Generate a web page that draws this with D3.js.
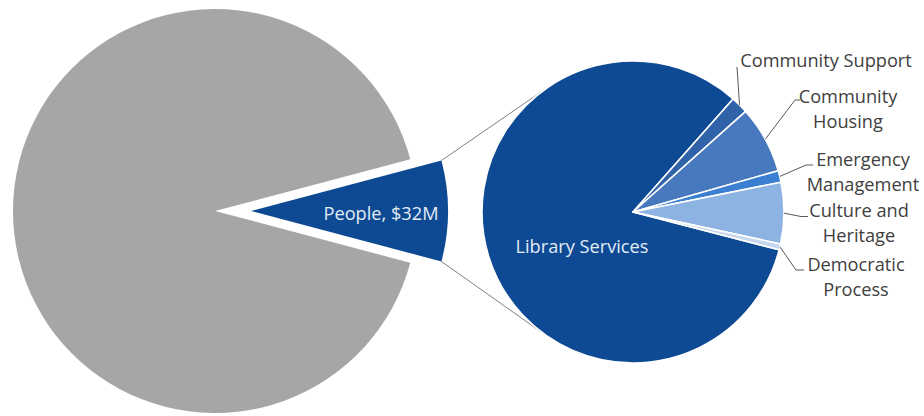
<!DOCTYPE html>
<html>
<head>
<meta charset="utf-8">
<script src="https://cdn.jsdelivr.net/npm/d3@7/dist/d3.min.js"></script>
<style>
  html, body { margin: 0; padding: 0; background: #ffffff; }
  svg { display: block; }
  text { font-family: "Open Sans", Lato, sans-serif; }
</style>
</head>
<body>
<svg id="chart" width="924" height="416"></svg>
<script>
// Main pie: the People service area against the rest of the budget ($M)
const mainCategories = ["People", "Other"];
const mainValues = [32, 356];
const mainColors = ["#0d4a93", "#a6a6a6"];

// Breakdown of the People service area ($M)
const subCategories = ["Library Services", "Community Support", "Community Housing",
                       "Emergency Management", "Culture and Heritage", "Democratic Process"];
const subValues = [26.4, 0.6, 2.3, 0.4, 2.1, 0.2];
const subColors = ["#0d4a93", "#2f62a8", "#4878bd", "#3a7fd2", "#8db3e2", "#c6d7ee"];

// Label text lines for the breakdown slices
const subLabelLines = [
  null,
  ["Community Support"],
  ["Community", "Housing"],
  ["Emergency", "Management"],
  ["Culture and", "Heritage"],
  ["Democratic", "Process"]
];

const svg = d3.select("#chart");
const deg = Math.PI / 180;
const fontSize = 18.2;

// ---- main pie ----
const main = { cx: 215, cy: 211, r: 202, explodeR: 197, explode: 36 };
const total = d3.sum(mainValues);
const peopleSpan = 2 * Math.PI * mainValues[0] / total;
const mainStart = Math.PI / 2 - peopleSpan / 2;

const mainPie = d3.pie().sort(null).value(d => d.value)
  .startAngle(mainStart).endAngle(mainStart + 2 * Math.PI);
const mainArcs = mainPie(mainCategories.map((c, i) => ({ name: c, value: mainValues[i], color: mainColors[i] })));
const mainArc = d3.arc().innerRadius(0).outerRadius(d => d.index === 0 ? main.explodeR : main.r);

const gMain = svg.append("g").attr("transform", `translate(${main.cx},${main.cy})`);
gMain.selectAll("path")
  .data(mainArcs)
  .join("path")
  .attr("d", mainArc)
  .attr("fill", d => d.data.color)
  .attr("transform", (d, i) => {
    if (i !== 0) return null;
    const mid = (d.startAngle + d.endAngle) / 2;
    return `translate(${Math.sin(mid) * main.explode},${-Math.cos(mid) * main.explode})`;
  });

// exploded slice geometry
const ps = mainArcs[0];
const pMid = (ps.startAngle + ps.endAngle) / 2;
const apex = [main.cx + Math.sin(pMid) * main.explode, main.cy - Math.cos(pMid) * main.explode];
const cornerTop = [apex[0] + Math.sin(ps.startAngle) * main.explodeR, apex[1] - Math.cos(ps.startAngle) * main.explodeR];
const cornerBot = [apex[0] + Math.sin(ps.endAngle) * main.explodeR, apex[1] - Math.cos(ps.endAngle) * main.explodeR];

// ---- breakdown pie ----
const sub = { cx: 633, cy: 212, r: 151 };
const subStart = 104.5 * deg;
const subPie = d3.pie().sort(null).value(d => d.value)
  .startAngle(subStart).endAngle(subStart + 2 * Math.PI);
const subArcs = subPie(subCategories.map((c, i) => ({ name: c, value: subValues[i], color: subColors[i], lines: subLabelLines[i] })));
const subArc = d3.arc().innerRadius(0).outerRadius(sub.r);

// connector lines from the exploded slice to the breakdown pie (tangents)
function tangentPoint(p, c, r, sign) {
  const dx = p[0] - c.cx, dy = p[1] - c.cy;
  const d = Math.hypot(dx, dy);
  const base = Math.atan2(dy, dx);
  const a = base + sign * Math.acos(r / d);
  return [c.cx + r * Math.cos(a), c.cy + r * Math.sin(a)];
}
const tTop = tangentPoint(cornerTop, sub, sub.r, 1);
const tBot = tangentPoint(cornerBot, sub, sub.r, -1);
svg.append("g")
  .selectAll("line")
  .data([[cornerTop, tTop], [cornerBot, tBot]])
  .join("line")
  .attr("x1", d => d[0][0]).attr("y1", d => d[0][1])
  .attr("x2", d => d[1][0]).attr("y2", d => d[1][1])
  .attr("stroke", "#7f7f7f").attr("stroke-width", 1);

const gSub = svg.append("g").attr("transform", `translate(${sub.cx},${sub.cy})`);
gSub.selectAll("path")
  .data(subArcs)
  .join("path")
  .attr("d", subArc)
  .attr("fill", d => d.data.color)
  .attr("stroke", "#ffffff")
  .attr("stroke-width", 1.6)
  .attr("stroke-linejoin", "round");

// inside labels
svg.append("text")
  .attr("x", 381).attr("y", 220)
  .attr("text-anchor", "middle")
  .attr("font-size", fontSize)
  .attr("fill", "#e3ebf5")
  .text(`${mainCategories[0]}, $${mainValues[0]}M`);

svg.append("text")
  .attr("x", 582).attr("y", 253)
  .attr("text-anchor", "middle")
  .attr("font-size", fontSize)
  .attr("fill", "#e3ebf5")
  .text(subCategories[0]);

// outside labels with leader lines
const labelLayout = [
  null,
  { x: 826, y: 67, elbow: [737, 67], end: [737, 67] },
  { x: 848, y: 103, elbow: [795, 100], end: [800, 100] },
  { x: 863, y: 166, elbow: [806, 165], end: [813, 165] },
  { x: 859, y: 217, elbow: [801, 216.5], end: [808, 216.5] },
  { x: 856, y: 271, elbow: [796, 270], end: [804, 270] }
];
const lineGap = 24.5;

const gLabels = svg.append("g");
subArcs.forEach((d, i) => {
  const lay = labelLayout[i];
  if (!lay) return;
  const mid = (d.startAngle + d.endAngle) / 2;
  const start = [sub.cx + Math.sin(mid) * sub.r, sub.cy - Math.cos(mid) * sub.r];
  gLabels.append("path")
    .attr("d", d3.line()([start, lay.elbow, lay.end]))
    .attr("fill", "none")
    .attr("stroke", "#595959")
    .attr("stroke-width", 1);
  const t = gLabels.append("text")
    .attr("text-anchor", "middle")
    .attr("font-size", fontSize)
    .attr("fill", "#404040");
  d.data.lines.forEach((ln, j) => {
    t.append("tspan").attr("x", lay.x).attr("y", lay.y + j * lineGap).text(ln);
  });
});
</script>
</body>
</html>
